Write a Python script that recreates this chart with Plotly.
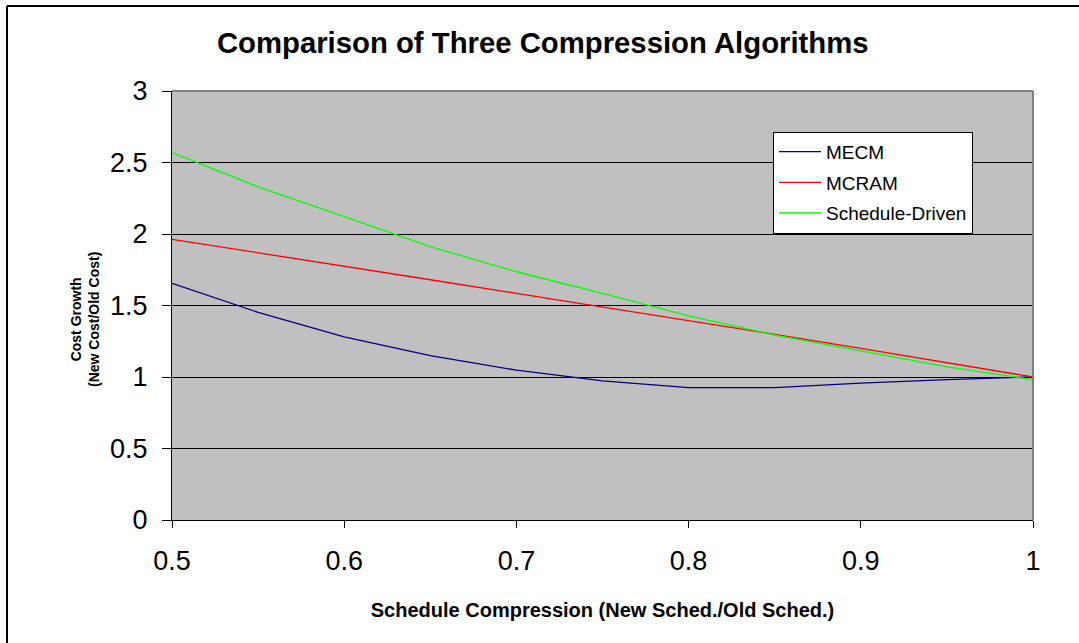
import plotly.graph_objects as go

# Schedule compression ratio (new schedule / old schedule)
compression = [0.5, 0.55, 0.6, 0.65, 0.7, 0.75, 0.8, 0.85, 0.9, 0.95, 1.0]

# Cost growth (new cost / old cost) for each algorithm
mecm = [1.655, 1.452, 1.281, 1.150, 1.048, 0.973, 0.926, 0.926, 0.957, 0.982, 1.0]
mcram = [1.963, 1.870, 1.772, 1.680, 1.585, 1.490, 1.398, 1.298, 1.200, 1.099, 1.0]
schedule_driven = [2.569, 2.330, 2.121, 1.911, 1.736, 1.585, 1.428, 1.293, 1.183, 1.071, 0.982]

y_ticks = [0, 0.5, 1, 1.5, 2, 2.5, 3]
x_ticks = [0.5, 0.6, 0.7, 0.8, 0.9, 1.0]

FONT = "Liberation Sans, Arial, sans-serif"

fig = go.Figure()
series = [
    ("MECM", mecm, "#000080"),
    ("MCRAM", mcram, "#FF0000"),
    ("Schedule-Driven", schedule_driven, "#00FF00"),
]
for name, vals, color in series:
    fig.add_trace(go.Scatter(
        x=compression, y=vals, mode="lines", name=name,
        line=dict(color=color, width=1.3),
        legendgroup=name,
    ))

fig.update_layout(
    width=1079, height=643,
    margin=dict(l=172, r=46, t=91, b=123),
    paper_bgcolor="white",
    plot_bgcolor="#C0C0C0",
    font=dict(family=FONT, color="black"),
    title=dict(
        text="<b>Comparison of Three Compression Algorithms</b>",
        font=dict(size=29.3, family=FONT, color="black"),
        x=0.503, xanchor="center", y=1 - 43 / 643, yanchor="middle",
    ),
    showlegend=True,
    legend=dict(
        x=0.698, y=0.905, xanchor="left", yanchor="top",
        bgcolor="white", bordercolor="black", borderwidth=1,
        font=dict(size=19, family=FONT, color="black"),
        tracegroupgap=3, itemwidth=42,
    ),
    xaxis=dict(
        range=[0.5, 1.0], tickvals=x_ticks, ticktext=[f"{v:g}" for v in x_ticks],
        showgrid=False, zeroline=False,
        showline=True, linecolor="black", linewidth=1,
        ticks="outside", ticklen=7, tickcolor="black", tickwidth=1,
        tickfont=dict(size=27, family=FONT, color="black"),
        ticklabelstandoff=10,
        title=dict(text="<b>Schedule Compression (New Sched./Old Sched.)</b>",
                   font=dict(size=20, family=FONT, color="black"), standoff=27),
    ),
    yaxis=dict(
        range=[0, 3], tickvals=y_ticks, ticktext=[f"{v:g}" for v in y_ticks],
        showgrid=True, gridcolor="black", gridwidth=1, zeroline=False,
        showline=True, linecolor="black", linewidth=1,
        ticks="outside", ticklen=9, tickcolor="black", tickwidth=1,
        tickfont=dict(size=27, family=FONT, color="black"),
        ticklabelstandoff=9,
    ),
    annotations=[dict(
        text="<b>Cost Growth<br>(New Cost/Old Cost)</b>",
        xref="paper", yref="paper", x=(85 - 172) / 861, y=(520 - 320) / 429,
        xanchor="center", yanchor="middle", textangle=-90, showarrow=False,
        font=dict(size=14, family=FONT, color="black"),
    )],
    shapes=[
        # plot-area frame on the top and right
        dict(type="line", xref="paper", yref="paper", x0=0, x1=1, y0=1, y1=1,
             line=dict(color="#808080", width=2)),
        dict(type="line", xref="paper", yref="paper", x0=1, x1=1, y0=0, y1=1,
             line=dict(color="#808080", width=2)),
        # outer chart frame
        dict(type="line", xref="paper", yref="paper",
             x0=(7 - 172) / 861, x1=(1100 - 172) / 861,
             y0=(520 - 6) / 429, y1=(520 - 6) / 429,
             line=dict(color="black", width=2)),
        dict(type="line", xref="paper", yref="paper",
             x0=(7 - 172) / 861, x1=(7 - 172) / 861,
             y0=(520 - 6) / 429, y1=(520 - 660) / 429,
             line=dict(color="black", width=2)),
    ],
)

fig.write_html("out.html")
